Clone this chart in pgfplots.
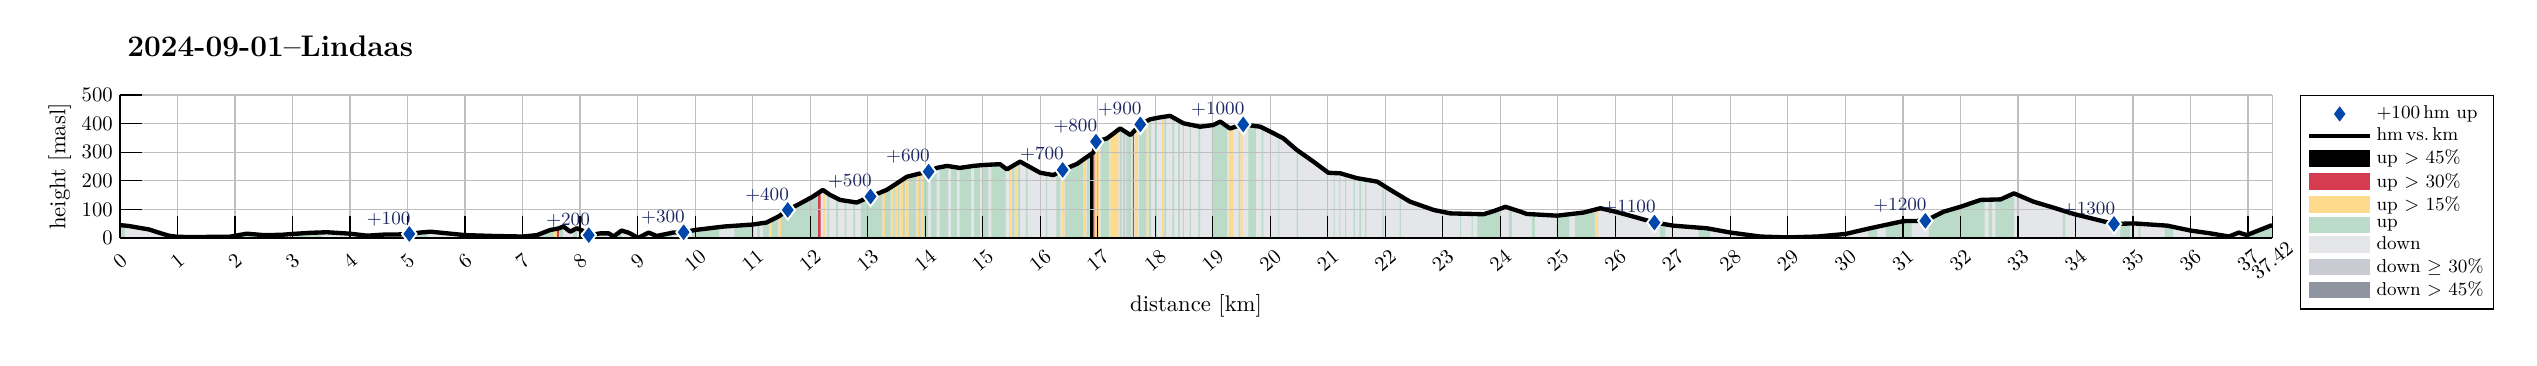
\documentclass[border=0pt]{standalone}
\usepackage{pgfplots}
\pgfplotsset{compat=1.18}
\usepackage{pgfplotstable}

\definecolor{dblue}{RGB}{0,71,171}
\definecolor{labcol}{RGB}{28,38,98}
\definecolor{upcol}{RGB}{186,219,200}
\definecolor{downcol}{RGB}{228,230,234}
\definecolor{ycol}{RGB}{254,218,140}
\definecolor{rcol}{RGB}{214,60,80}
\definecolor{dthirty}{RGB}{200,203,210}
\definecolor{dfortyfive}{RGB}{142,148,160}

\pgfplotsset{
  arealeg/.style={legend image code/.code={\fill[##1] (0cm,-0.14cm) rectangle (1.04cm,0.14cm);}},
  lineleg/.style={legend image code/.code={\draw[##1] (0cm,0cm) -- (1.04cm,0cm);}},
  diamleg/.style={legend image code/.code={\draw[##1] plot coordinates {(0.52cm,0cm)};}},
}

\pgfplotstableread{
km h
0 45
0.15 42
0.35 35
0.5 30
0.7 17
0.85 8
1.0 4
1.3 3
1.6 4
1.9 4
2.2 15
2.5 10
2.8 11
3.0 14
3.3 18
3.6 20
4.0 15
4.3 8
4.6 12
4.8 12
5.03 14
5.22 19
5.4 22
5.7 16
6.0 10
6.5 7
7.0 5
7.25 10
7.48 28
7.62 33
7.71 40
7.83 22
7.94 34
8.05 25
8.15 10
8.35 16
8.5 16
8.58 5
8.72 26
8.85 18
9.01 0
9.19 19
9.33 7
9.62 19
9.8 20
10.0 28
10.5 40
11.0 47
11.24 54
11.45 75
11.61 98
11.83 121
12.05 145
12.22 168
12.35 150
12.52 133
12.81 124
13.05 145
13.33 168
13.5 190
13.68 214
13.9 225
14.06 232
14.2 245
14.38 252
14.6 245
14.84 252
15.0 255
15.3 258
15.42 240
15.65 267
16.0 228
16.23 220
16.39 238
16.64 259
16.86 290
16.93 300
16.97 337
17.16 348
17.39 383
17.57 360
17.74 397
17.91 415
18.09 422
18.26 427
18.49 401
18.78 389
19.01 395
19.13 407
19.3 383
19.53 397
19.83 389
20.0 372
20.23 348
20.46 308
20.75 267
21.01 228
21.22 226
21.51 209
21.86 197
22.09 168
22.43 127
22.84 98
23.13 86
23.71 83
23.9 95
24.09 109
24.35 92
24.46 84
24.99 78
25.45 89
25.74 104
26.0 92
26.31 75
26.68 54
27.01 43
27.59 34
28.0 19
28.52 5
28.99 2
29.51 5
30.0 14
30.43 34
31.01 59
31.39 60
31.71 92
32.0 109
32.35 133
32.7 135
32.93 156
33.27 127
33.57 109
33.97 84
34.67 49
35.01 51
35.6 43
36.0 26
36.35 16
36.67 5
36.84 19
36.98 10
37.42 45
}\profile

\pgfplotstableread{
km h lab
5.03 14 +100
8.15 10 +200
9.8 20 +300
11.61 98 +400
13.05 145 +500
14.06 232 +600
16.39 238 +700
16.97 337 +800
17.74 397 +900
19.53 397 +1000
26.68 54 +1100
31.39 60 +1200
34.67 49 +1300
}\hmmarks

% strips: each pair (start 500) (end 0) gives one full-height strip
\pgfplotstableread{
x y
0.00 500
0.08 0
2.10 500
2.30 0
3.05 500
3.50 0
5.10 500
5.35 0
7.30 500
7.54 0
7.64 500
7.70 0
7.88 500
7.95 0
8.65 500
8.72 0
9.10 500
9.18 0
9.40 500
9.60 0
9.95 500
10.42 0
10.68 500
11.02 0
11.08 500
11.12 0
11.18 500
11.28 0
11.33 500
11.44 0
11.49 500
12.14 0
12.30 500
12.33 0
12.45 500
12.48 0
12.60 500
12.63 0
12.75 500
12.78 0
12.88 500
13.25 0
13.30 500
13.40 0
13.45 500
13.48 0
13.53 500
13.55 0
13.61 500
13.65 0
13.71 500
13.84 0
13.89 500
13.92 0
13.97 500
14.05 0
14.10 500
14.20 0
14.25 500
14.40 0
14.45 500
14.55 0
14.60 500
14.80 0
14.85 500
14.95 0
15.00 500
15.10 0
15.15 500
15.40 0
15.51 500
15.55 0
15.61 500
15.65 0
15.75 500
15.78 0
16.10 500
16.12 0
16.28 500
16.35 0
16.43 500
16.75 0
16.81 500
16.86 0
17.05 500
17.20 0
17.38 500
17.42 0
17.50 500
17.58 0
17.72 500
17.84 0
17.89 500
17.93 0
18.00 500
18.03 0
18.16 500
18.19 0
18.30 500
18.33 0
18.40 500
18.43 0
18.60 500
18.62 0
18.75 500
18.78 0
19.00 500
19.25 0
19.45 500
19.47 0
19.62 500
19.75 0
19.85 500
19.88 0
20.14 500
20.16 0
20.46 500
20.48 0
21.10 500
21.12 0
21.20 500
21.22 0
21.30 500
21.32 0
21.45 500
21.47 0
21.55 500
21.58 0
21.65 500
21.67 0
21.95 500
21.97 0
22.25 500
22.27 0
23.30 500
23.32 0
23.50 500
23.52 0
23.60 500
24.00 0
24.15 500
24.20 0
24.55 500
24.60 0
24.98 500
25.20 0
25.30 500
25.65 0
26.78 500
26.87 0
27.45 500
27.65 0
30.40 500
30.55 0
30.70 500
31.15 0
31.45 500
32.42 0
32.49 500
32.55 0
32.61 500
32.93 0
33.78 500
33.82 0
34.78 500
34.95 0
35.10 500
35.13 0
35.55 500
35.70 0
36.35 500
36.40 0
36.95 500
37.42 0
}\upstrips

\pgfplotstableread{
x y
7.54 500
7.60 0
11.30 500
11.33 0
11.45 500
11.49 0
12.22 500
12.26 0
13.26 500
13.30 0
13.41 500
13.45 0
13.49 500
13.53 0
13.57 500
13.61 0
13.67 500
13.71 0
13.85 500
13.89 0
13.93 500
13.97 0
15.46 500
15.50 0
15.56 500
15.60 0
16.38 500
16.42 0
16.76 500
16.80 0
16.94 500
17.02 0
17.22 500
17.36 0
17.64 500
17.70 0
17.85 500
17.88 0
18.12 500
18.15 0
19.28 500
19.36 0
19.48 500
19.52 0
25.66 500
25.70 0
}\yellowstrips

\pgfplotstableread{
x y
7.60 500
7.63 0
12.14 500
12.18 0
16.92 500
16.94 0
17.61 500
17.63 0
}\redstrips

\pgfplotstableread{
x y
16.87 500
16.92 0
}\blackstrips

\pgfplotstableread{
x y
17.44 500
17.48 0
18.48 500
18.50 0
}\dthirtystrips

\begin{document}
\begin{tikzpicture}
\begin{axis}[
  at={(0,0)}, anchor=south west,
  set layers,
  scale only axis, width=1040pt, height=69.1pt,
  xmin=0, xmax=37.42, ymin=0, ymax=500,
  axis lines*=left,
  tick align=inside,
  major tick length=10.6pt,
  xtick={0,1,...,37,37.42},
  ytick={0,100,...,500},
  grid=major,
  grid style={line width=0.6pt, color=black!25},
  axis line style={line width=0.8pt},
  tick style={line width=0.6pt, black},
  xticklabel style={yshift=-11pt, rotate=40, anchor=center},
  xlabel={distance [km]},
  ylabel={height [masl]},
  label style={font=\fontsize{10.95}{13.6}\selectfont},
  xlabel style={at={(axis description cs:0.5,-0.478)}, anchor=center},
  ylabel style={at={(axis description cs:-0.028,0.5)}, anchor=center},
  title={2024-09-01--Lindaas},
  title style={at={(axis description cs:0,1.183)}, anchor=base west, font=\Large\bfseries},
  legend style={at={(1,1)}, anchor=north west, xshift=13.5pt, draw=black, line width=0.6pt,
    font=\small, row sep=-1.1pt, inner xsep=3pt, inner ysep=3pt, cells={anchor=west}},
  legend cell align=left,
]
% background fills (below the grid)
\addplot[fill=downcol, draw=none, on layer=axis background, forget plot] table[x=km,y=h] {\profile} \closedcycle;
\addplot[ybar interval, fill=upcol, draw=none, on layer=axis background, forget plot] table[x=x,y=y] {\upstrips};
\addplot[ybar interval, fill=ycol, draw=none, on layer=axis background, forget plot] table[x=x,y=y] {\yellowstrips};
\addplot[ybar interval, fill=rcol, draw=none, on layer=axis background, forget plot] table[x=x,y=y] {\redstrips};
\addplot[ybar interval, fill=black, draw=none, on layer=axis background, forget plot] table[x=x,y=y] {\blackstrips};
\addplot[ybar interval, fill=dthirty, draw=none, on layer=axis background, forget plot] table[x=x,y=y] {\dthirtystrips};
% white mask above the profile
\addplot[fill=white, draw=none, on layer=axis background, forget plot] table[x=km,y=h] {\profile}
  -- (axis cs:37.42,520) -- (axis cs:0,520) -- cycle;
% profile line
\addplot[black, line width=2.1pt, line join=round, forget plot] table[x=km,y=h] {\profile};
% +100 hm markers
\addplot[only marks, mark=diamond*, mark size=4.7pt,
  mark options={fill=dblue, draw=white, line width=0.9pt},
  point meta=explicit symbolic, nodes near coords,
  every node near coord/.append style={anchor=base east, inner sep=0pt, xshift=1pt, yshift=4.8pt, font=\small, text=labcol},
  forget plot] table[x=km,y=h,meta=lab] {\hmmarks};

% legend
\addlegendimage{diamleg, only marks, mark=diamond*, mark size=4.5pt, mark options={fill=dblue, draw=white, line width=0.8pt}}
\addlegendentry{+100\,hm up}
\addlegendimage{lineleg, black, line width=2.1pt}
\addlegendentry{hm\,vs.\,km}
\addlegendimage{arealeg, fill=black, draw=none}
\addlegendentry{up $>$ 45\%}
\addlegendimage{arealeg, fill=rcol, draw=none}
\addlegendentry{up $>$ 30\%}
\addlegendimage{arealeg, fill=ycol, draw=none}
\addlegendentry{up $>$ 15\%}
\addlegendimage{arealeg, fill=upcol, draw=none}
\addlegendentry{up}
\addlegendimage{arealeg, fill=downcol, draw=none}
\addlegendentry{down}
\addlegendimage{arealeg, fill=dthirty, draw=none}
\addlegendentry{down $\geq$ 30\%}
\addlegendimage{arealeg, fill=dfortyfive, draw=none}
\addlegendentry{down $>$ 45\%}
\end{axis}
\pgfresetboundingbox
\useasboundingbox (-58pt,-61.86pt) rectangle (1168pt,115pt);
\end{tikzpicture}
\end{document}
